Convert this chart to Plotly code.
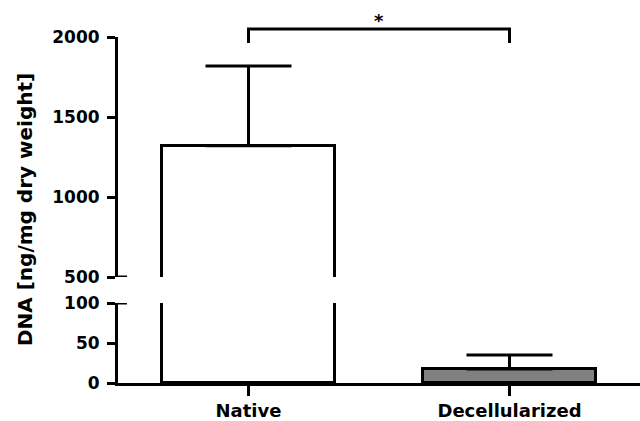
import plotly.graph_objects as go

categories = ["Native", "Decellularized"]
means = [1321, 17.5]
errors_plus = [498, 17.5]
errors_minus = [0, 0]
bar_colors = ["#ffffff", "#808080"]
upper_ticks = [500, 1000, 1500, 2000]
lower_ticks = [0, 50, 100]
y_title = "DNA [ng/mg dry weight]"
sig_label = "*"

FONT = "DejaVu Sans"

def bar_trace(yaxis):
    return go.Bar(
        x=categories, y=means, yaxis=yaxis, xaxis="x",
        width=0.665,
        marker=dict(color=bar_colors, line=dict(color="black", width=3)),
        error_y=dict(type="data", symmetric=False, array=errors_plus,
                     arrayminus=errors_minus, color="black", thickness=3, width=43),
        showlegend=False, hoverinfo="skip",
    )

fig = go.Figure([bar_trace("y"), bar_trace("y2")])

ax_common = dict(
    showline=True, linecolor="black", linewidth=3,
    ticks="outside", ticklen=8, tickwidth=3, tickcolor="black",
    showgrid=False, zeroline=False, automargin=False,
    tickfont=dict(family=FONT, size=17, color="black", weight="bold"),
    ticklabelstandoff=4,
)

fig.update_layout(
    width=640, height=421, autosize=False,
    margin=dict(l=118, r=0, t=37, b=38),
    plot_bgcolor="white", paper_bgcolor="white",
    bargap=0,
    xaxis=dict(
        type="category", range=[-0.5, 1.5], anchor="y",
        showline=True, linecolor="black", linewidth=3,
        ticks="outside", ticklen=10, tickwidth=3, tickcolor="black",
        showgrid=False, zeroline=False, automargin=False,
        tickfont=dict(family=FONT, size=18, color="black", weight="bold"),
        ticklabelstandoff=-1,
    ),
    yaxis=dict(domain=[0, 80 / 346], range=[0, 100], tickvals=lower_ticks, **ax_common),
    yaxis2=dict(domain=[106 / 346, 1], range=[500, 2000], tickvals=upper_ticks,
                anchor="x", **ax_common),
)

# break-end markers on the axis (inner part of the end ticks)
fig.add_shape(type="line", xref="paper", yref="y2", x0=0, x1=0.0172, y0=500, y1=500,
              line=dict(color="black", width=3))
fig.add_shape(type="line", xref="paper", yref="y", x0=0, x1=0.0172, y0=100, y1=100,
              line=dict(color="black", width=3))

# significance bracket
top_y = 1.0231
low_y = 0.9827
fig.add_shape(type="path", xref="x", yref="paper",
              path=f"M 0,{low_y} L 0,{top_y} L 1,{top_y} L 1,{low_y}",
              line=dict(color="black", width=3))
fig.add_annotation(x=0.5, xref="x", y=top_y, yref="paper", text=sig_label,
                   showarrow=False, yanchor="bottom", yshift=-4,
                   font=dict(family=FONT, size=18, color="black", weight="bold"))

# y-axis title spanning both segments
fig.add_annotation(x=-0.178, xref="paper", y=0.5, yref="paper", text=y_title,
                   textangle=-90, showarrow=False, xanchor="center", yanchor="middle",
                   font=dict(family=FONT, size=20, color="black", weight="bold"))

fig.write_html(
    "out.html",
    config={"displayModeBar": False},
    post_script="document.body.style.margin='0';document.body.style.overflow='hidden';",
)
